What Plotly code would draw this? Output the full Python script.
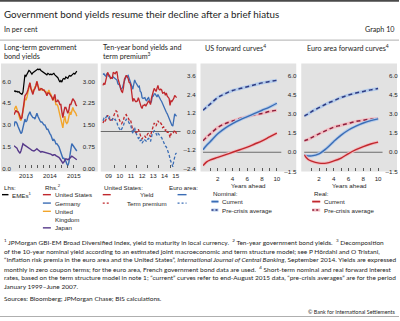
import plotly.graph_objects as go

W, H = 400, 321

# ---------------- data ----------------
# Long-term government bond yields, semi-monthly, Jan 2013 - Aug 2015
EMES = [
    5.30, 5.35, 5.28, 5.32, 5.25, 5.30, 5.20, 5.15, 5.10, 5.25,
    5.90, 6.45, 6.35, 6.50, 6.60, 6.75, 6.70, 6.55, 6.50, 6.60,
    6.65, 6.70, 6.75, 6.80,
    6.85, 6.80, 6.85, 6.75, 6.70, 6.65, 6.60, 6.55, 6.50, 6.45,
    6.55, 6.50, 6.45, 6.50, 6.45, 6.50, 6.55, 6.45, 6.40, 6.35,
    6.25, 6.10, 5.95, 6.05,
    5.95, 6.15, 6.20, 6.15, 6.30, 6.25, 6.20, 6.35, 6.40, 6.35,
    6.45, 6.50, 6.55, 6.50, 6.60, 6.70,
]
US_10Y = [
    1.85, 1.95, 2.00, 1.95, 1.95, 1.90, 1.75, 1.70, 1.75, 2.05,
    2.20, 2.50, 2.55, 2.60, 2.70, 2.85, 2.95, 2.75, 2.65, 2.55,
    2.70, 2.75, 2.85, 3.00,
    2.85, 2.70, 2.70, 2.75, 2.75, 2.70, 2.70, 2.65, 2.60, 2.50,
    2.60, 2.60, 2.55, 2.50, 2.45, 2.35, 2.45, 2.55, 2.30, 2.30,
    2.35, 2.30, 2.20, 2.20,
    1.95, 1.75, 1.95, 2.10, 2.10, 1.95, 1.90, 2.00, 2.20, 2.20,
    2.35, 2.40, 2.35, 2.30, 2.20, 2.15,
]
UK_10Y = [
    2.00, 2.10, 2.15, 2.05, 1.90, 1.80, 1.70, 1.65, 1.80, 2.00,
    2.15, 2.40, 2.35, 2.45, 2.60, 2.75, 2.95, 2.75, 2.70, 2.60,
    2.75, 2.80, 2.85, 3.00,
    2.85, 2.75, 2.70, 2.75, 2.70, 2.70, 2.70, 2.65, 2.65, 2.55,
    2.65, 2.70, 2.60, 2.55, 2.45, 2.35, 2.45, 2.40, 2.20, 2.20,
    2.15, 2.00, 1.90, 1.75,
    1.55, 1.40, 1.65, 1.80, 1.60, 1.55, 1.60, 1.80, 1.95, 1.85,
    2.05, 2.10, 2.00, 1.95, 1.90, 1.80,
]
DE_10Y = [
    1.45, 1.60, 1.60, 1.55, 1.45, 1.35, 1.30, 1.20, 1.25, 1.40,
    1.60, 1.70, 1.60, 1.65, 1.80, 1.90, 1.95, 1.85, 1.80, 1.75,
    1.75, 1.70, 1.80, 1.90,
    1.80, 1.70, 1.65, 1.60, 1.60, 1.55, 1.50, 1.50, 1.40, 1.35,
    1.35, 1.25, 1.20, 1.15, 1.05, 0.95, 1.00, 0.95, 0.85, 0.85,
    0.80, 0.75, 0.65, 0.55,
    0.50, 0.35, 0.35, 0.30, 0.25, 0.15, 0.10, 0.20, 0.55, 0.65,
    0.85, 0.80, 0.75, 0.70, 0.65, 0.60,
]
JP_10Y = [
    0.78, 0.75, 0.75, 0.70, 0.62, 0.58, 0.52, 0.60, 0.70, 0.85,
    0.82, 0.80, 0.76, 0.74, 0.72, 0.70, 0.68, 0.65, 0.62, 0.60,
    0.60, 0.62, 0.65, 0.68,
    0.64, 0.60, 0.58, 0.56, 0.58, 0.57, 0.56, 0.56, 0.55, 0.54,
    0.54, 0.52, 0.50, 0.49, 0.47, 0.45, 0.47, 0.47, 0.44, 0.42,
    0.42, 0.38, 0.34, 0.30,
    0.25, 0.18, 0.22, 0.30, 0.33, 0.32, 0.30, 0.32, 0.35, 0.38,
    0.42, 0.40, 0.38, 0.35, 0.33, 0.30,
]
LT_DATES = [2013 + k / 24 for k in range(len(EMES))]
LT_QUARTERS = [2013 + q / 4 for q in range(11)]
LT_YEAR_LABELS = {2013.5: "2013", 2014.5: "2014", 2015.5: "2015"}
LT_LEFT_TICKS = [0.0, 1.5, 3.0, 4.5, 6.0]
LT_RIGHT_TICKS = [0.0, 0.75, 1.50, 2.25, 3.00]

# Ten-year yields and term premia, monthly, Jan 2009 - Aug 2015
US_YIELD = [
    3.00, 3.15, 3.05, 3.30, 3.60, 3.85, 3.70, 3.65, 3.45, 3.50, 3.45, 3.85,
    3.80, 3.75, 3.85, 3.90, 3.45, 3.20, 3.05, 2.70, 2.60, 2.55, 2.85, 3.40,
    3.50, 3.65, 3.55, 3.45, 3.20, 3.15, 2.95, 2.30, 1.95, 2.15, 2.05, 1.95,
    1.95, 2.00, 2.20, 1.95, 1.65, 1.60, 1.50, 1.70, 1.70, 1.75, 1.65, 1.80,
    1.95, 2.00, 1.90, 1.75, 2.15, 2.50, 2.60, 2.80, 2.70, 2.60, 2.80, 3.00,
    2.75, 2.70, 2.75, 2.70, 2.50, 2.55, 2.55, 2.35, 2.50, 2.30, 2.25, 2.15,
    1.70, 2.00, 1.95, 2.05, 2.15, 2.35, 2.25, 2.20,
]
EA_YIELD = [
    3.70, 3.75, 3.65, 3.60, 3.75, 3.75, 3.60, 3.55, 3.50, 3.45, 3.45, 3.55,
    3.50, 3.45, 3.40, 3.35, 3.10, 3.05, 3.00, 2.75, 2.80, 2.85, 3.10, 3.35,
    3.45, 3.60, 3.60, 3.65, 3.45, 3.40, 3.20, 3.00, 2.75, 3.05, 3.35, 3.20,
    3.10, 2.95, 2.90, 2.95, 2.60, 2.55, 2.20, 2.15, 2.20, 2.20, 2.05, 2.00,
    2.15, 2.20, 2.00, 1.85, 1.95, 2.30, 2.30, 2.45, 2.45, 2.35, 2.25, 2.40,
    2.25, 2.15, 2.05, 1.95, 1.80, 1.65, 1.50, 1.30, 1.25, 1.15, 1.00, 0.80,
    0.60, 0.55, 0.40, 0.35, 0.85, 1.15, 1.05, 1.00,
]
US_TP = [
    0.55, 0.70, 0.60, 0.75, 0.95, 1.05, 0.90, 0.85, 0.70, 0.80, 0.75, 0.95,
    1.10, 1.25, 1.35, 1.30, 1.00, 0.80, 0.70, 0.55, 0.50, 0.60, 0.75, 1.00,
    1.05, 1.10, 0.95, 0.90, 0.75, 0.80, 0.65, 0.25, 0.05, 0.15, 0.05, -0.05,
    -0.05, 0.00, 0.15, -0.05, -0.30, -0.40, -0.50, -0.35, -0.35, -0.30, -0.40, -0.25,
    -0.15, -0.10, -0.20, -0.35, -0.05, 0.25, 0.35, 0.55, 0.45, 0.35, 0.55, 0.70,
    0.60, 0.50, 0.55, 0.45, 0.25, 0.30, 0.25, 0.05, 0.15, -0.05, -0.05, -0.15,
    -0.40, -0.15, -0.20, -0.15, -0.05, 0.10, -0.05, -0.15,
]
EA_TP = [
    0.70, 0.85, 0.80, 0.95, 1.00, 0.90, 0.85, 0.95, 0.80, 0.75, 0.80, 0.85,
    0.75, 0.80, 0.70, 0.60, 0.35, 0.25, 0.20, 0.05, 0.15, 0.25, 0.40, 0.60,
    0.65, 0.80, 0.75, 0.70, 0.55, 0.50, 0.35, 0.10, -0.15, 0.05, 0.25, -0.05,
    -0.20, -0.40, -0.45, -0.40, -0.60, -0.55, -0.75, -0.65, -0.50, -0.55, -0.60, -0.65,
    -0.50, -0.45, -0.55, -0.65, -0.40, -0.10, -0.05, 0.05, 0.00, -0.15, -0.25, -0.10,
    -0.20, -0.30, -0.35, -0.40, -0.55, -0.60, -0.75, -0.95, -1.00, -1.15, -1.30, -1.50,
    -1.80, -2.00, -2.20, -2.30, -1.90, -1.55, -1.45, -1.40,
]
TP_DATES = [2009 + k / 12 for k in range(len(US_YIELD))]
TP_YEAR_BOUNDS = [2010, 2011, 2012, 2013, 2014, 2015]
TP_YEAR_MIDS = [2009.5, 2010.5, 2011.5, 2012.5, 2013.5, 2014.5, 2015.5]
TP_YEAR_LABELS = ["09", "10", "11", "12", "13", "14", "15"]
TP_TICKS = [-2.4, -1.2, 0.0, 1.2, 2.4, 3.6]

# Forward curves, years ahead
YEARS = [0, 0.5, 1, 2, 3, 4, 5, 6, 7, 8, 9, 10]
US_NOM_CUR = [0.20, 0.55, 0.85, 1.45, 1.90, 2.25, 2.55, 2.80, 3.05, 3.30, 3.55, 3.85]
US_NOM_PRE = [3.30, 3.55, 3.80, 4.30, 4.60, 4.85, 5.00, 5.15, 5.30, 5.45, 5.55, 5.65]
US_REAL_CUR = [-1.05, -0.75, -0.60, -0.40, -0.20, 0.00, 0.20, 0.40, 0.65, 0.90, 1.20, 1.50]
US_REAL_PRE = [0.90, 1.20, 1.45, 1.95, 2.25, 2.45, 2.65, 2.80, 2.95, 3.05, 3.20, 3.30]
EA_NOM_CUR = [-0.22, -0.28, -0.28, -0.12, 0.30, 0.85, 1.35, 1.75, 2.05, 2.30, 2.48, 2.62]
EA_NOM_PRE = [2.85, 3.00, 3.20, 3.50, 3.80, 4.05, 4.30, 4.50, 4.65, 4.78, 4.90, 5.00]
EA_REAL_CUR = [-0.20, -0.55, -0.70, -0.85, -0.85, -0.68, -0.45, -0.10, 0.20, 0.45, 0.65, 0.80]
EA_REAL_PRE = [0.90, 1.00, 1.15, 1.45, 1.72, 1.97, 2.12, 2.27, 2.42, 2.52, 2.60, 2.65]
FWD_XTICKS = list(range(1, 11))
FWD_YTICKS = [-1.5, 0.0, 1.5, 3.0, 4.5, 6.0]

FOOTNOTES = [
    "<sup>1</sup> JPMorgan GBI-EM Broad Diversified Index, yield to maturity in local currency.  "
    "<sup>2</sup> Ten-year government bond yields.  <sup>3</sup> Decomposition",
    "of the 10-year nominal yield according to an estimated joint macroeconomic and term structure model; "
    "see P Hördahl and O Tristani,",
    "\u201cInflation risk premia in the euro area and the United States\u201d, "
    "<i>International Journal of Central Banking</i>, September 2014. Yields are expressed",
    "monthly in zero coupon terms; for the euro area, French government bond data are used.  "
    "<sup>4</sup> Short-term nominal and real forward interest",
    "rates, based on the term structure model in note 1; \u201ccurrent\u201d curves refer to end-August 2015 data, "
    "\u201cpre-crisis averages\u201d are for the period",
    "January 1999\u2013June 2007.",
]

# ---------------- styling ----------------
def fx(p):
    return p / W


def fy(p):
    return 1 - p / H


CHART_FONT = "Liberation Sans, Arial, sans-serif"
TEXT_FONT = "Lato, Liberation Sans, sans-serif"
INK = "#1e1e1e"
PANEL_BG = "#e2e2e2"
TICK_GREY = "#5a5a5a"
RED = "#c0282d"
BLUE = "#3b6db5"
ORANGE = "#f2a52b"
PURPLE = "#56398a"
BLACK = "#000000"
NAVY = "#2e3a82"
MAROON = "#8e1f3c"
LIGHT_BLUE = "#b4cbea"
PINK = "#f2bcc1"
TICK_SIZE = 6.2


def num_label(v, nd, pad=False):
    s = f"{abs(v):.{nd}f}"
    if v < 0:
        return "\u2013" + s
    return ("\u2007" + s) if pad else s


fig = go.Figure()


def add_line(x, y, xa, ya, color, width=1.3, dash=None, shape="linear"):
    fig.add_trace(go.Scatter(
        x=x, y=y, xaxis=xa, yaxis=ya, mode="lines", hoverinfo="skip",
        showlegend=False, line=dict(color=color, width=width, dash=dash, shape=shape),
    ))


# Panel 1: long-term government bond yields
add_line(LT_DATES, UK_10Y, "x", "y2", ORANGE, 1.4)
add_line(LT_DATES, US_10Y, "x", "y2", RED, 1.4)
add_line(LT_DATES, DE_10Y, "x", "y2", BLUE, 1.4)
add_line(LT_DATES, JP_10Y, "x", "y2", PURPLE, 1.4)
add_line(LT_DATES, EMES, "x", "y", BLACK, 1.2)

# Panel 2: ten-year yields and term premia
add_line(TP_DATES, US_TP, "x2", "y3", RED, 1.3, "3px,2px")
add_line(TP_DATES, EA_TP, "x2", "y3", BLUE, 1.3, "3px,2px")
add_line(TP_DATES, EA_YIELD, "x2", "y3", BLUE, 1.3)
add_line(TP_DATES, US_YIELD, "x2", "y3", RED, 1.3)

# Panels 3 and 4: forward curves (pale underlay + main stroke)
for xa, ya, nom_cur, nom_pre, real_cur, real_pre in [
    ("x3", "y4", US_NOM_CUR, US_NOM_PRE, US_REAL_CUR, US_REAL_PRE),
    ("x4", "y5", EA_NOM_CUR, EA_NOM_PRE, EA_REAL_CUR, EA_REAL_PRE),
]:
    add_line(YEARS, nom_pre, xa, ya, LIGHT_BLUE, 3.2, shape="spline")
    add_line(YEARS, nom_pre, xa, ya, NAVY, 1.5, "4px,3px", "spline")
    add_line(YEARS, real_pre, xa, ya, PINK, 3.2, shape="spline")
    add_line(YEARS, real_pre, xa, ya, MAROON, 1.5, "4px,3px", "spline")
    add_line(YEARS, nom_cur, xa, ya, LIGHT_BLUE, 3.2, shape="spline")
    add_line(YEARS, nom_cur, xa, ya, BLUE, 1.4, shape="spline")
    add_line(YEARS, real_cur, xa, ya, PINK, 3.2, shape="spline")
    add_line(YEARS, real_cur, xa, ya, RED, 1.4, shape="spline")

tickfont = dict(family=CHART_FONT, size=TICK_SIZE, color=INK)
base = dict(showgrid=False, zeroline=False, showline=False, fixedrange=True,
            tickfont=tickfont, tickmode="array")
xbase = dict(base, ticks="inside", ticklen=3, tickwidth=1, tickcolor=TICK_GREY,
             ticklabelstandoff=2)
ybase = dict(base, ticks="", ticklabelstandoff=2)

fig.update_layout(
    width=W, height=H, margin=dict(l=0, r=0, t=0, b=0),
    paper_bgcolor="white", plot_bgcolor="rgba(0,0,0,0)", showlegend=False,
    xaxis=dict(xbase, domain=[fx(14), fx(80)], range=[2013.0, 2015.75], anchor="y",
               tickvals=LT_QUARTERS,
               ticktext=[LT_YEAR_LABELS.get(q, "") for q in LT_QUARTERS]),
    yaxis=dict(ybase, domain=[fy(170), fy(66)], range=[0, 7.1], anchor="x", side="left",
               tickvals=LT_LEFT_TICKS, ticktext=[num_label(v, 1) for v in LT_LEFT_TICKS]),
    yaxis2=dict(ybase, range=[0, 3.55], overlaying="y", anchor="x", side="right",
                tickvals=LT_RIGHT_TICKS, ticktext=[num_label(v, 2) for v in LT_RIGHT_TICKS]),
    xaxis2=dict(xbase, domain=[fx(101), fx(181)], range=[2008.8, 2015.94], anchor="y3",
                ticklen=0, tickvals=TP_YEAR_MIDS, ticktext=TP_YEAR_LABELS,
                minor=dict(tickmode="array", tickvals=TP_YEAR_BOUNDS, ticks="inside",
                           ticklen=3, tickwidth=1, tickcolor=TICK_GREY)),
    yaxis3=dict(ybase, domain=[fy(170), fy(66)], range=[-2.4, 4.3], anchor="x2", side="right",
                tickvals=TP_TICKS, ticktext=[num_label(v, 1, True) for v in TP_TICKS]),
    xaxis3=dict(xbase, domain=[fx(203.5), fx(282)], range=[0, 10.6], anchor="y4",
                tickvals=FWD_XTICKS,
                ticktext=[str(v) if v % 2 == 0 else "" for v in FWD_XTICKS]),
    yaxis4=dict(ybase, domain=[fy(173), fy(65)], range=[-1.5, 6.9], anchor="x3", side="right",
                tickvals=FWD_YTICKS, ticktext=[num_label(v, 1, True) for v in FWD_YTICKS]),
    xaxis4=dict(xbase, domain=[fx(305), fx(383.5)], range=[0, 10.6], anchor="y5",
                tickvals=FWD_XTICKS,
                ticktext=[str(v) if v % 2 == 0 else "" for v in FWD_XTICKS]),
    yaxis5=dict(ybase, domain=[fy(173), fy(65)], range=[-1.5, 6.9], anchor="x4", side="right",
                tickvals=FWD_YTICKS, ticktext=[num_label(v, 1, True) for v in FWD_YTICKS]),
)

shapes = []
# panel backgrounds
for x0, x1 in [(1, 98), (101, 197), (201, 297), (302, 398)]:
    shapes.append(dict(type="rect", xref="paper", yref="paper", layer="below",
                       x0=fx(x0), x1=fx(x1), y0=fy(173), y1=fy(64),
                       fillcolor=PANEL_BG, line=dict(width=0)))
# zero lines
for xr, yr in [("x2", "y3"), ("x3", "y4"), ("x4", "y5")]:
    shapes.append(dict(type="line", xref=f"{xr} domain", yref=yr, layer="below",
                       x0=0, x1=1, y0=0, y1=0, line=dict(color="#6b6b6b", width=1.1)))
# page rules
shapes.append(dict(type="rect", xref="paper", yref="paper", x0=0, x1=1,
                   y0=fy(1.8), y1=fy(0), fillcolor="#4a4a4a", line=dict(width=0)))
shapes.append(dict(type="line", xref="paper", yref="paper", x0=0, x1=1,
                   y0=fy(40.5), y1=fy(40.5), line=dict(color="#9a9a9a", width=0.8)))
shapes.append(dict(type="line", xref="paper", yref="paper", x0=0, x1=1,
                   y0=fy(319.5), y1=fy(319.5), line=dict(color="#9a9a9a", width=0.8)))


def swatch(x0, x1, y, color, dash=None, width=1.4, under=None):
    if under:
        shapes.append(dict(type="line", xref="paper", yref="paper", x0=fx(x0), x1=fx(x1),
                           y0=fy(y), y1=fy(y), line=dict(color=under, width=3)))
    shapes.append(dict(type="line", xref="paper", yref="paper", x0=fx(x0), x1=fx(x1),
                       y0=fy(y), y1=fy(y), line=dict(color=color, width=width, dash=dash)))


annotations = []


def text(t, x, y, size=TICK_SIZE, family=CHART_FONT, anchor="left", color=INK):
    annotations.append(dict(text=t, x=fx(x), y=fy(y), xref="paper", yref="paper",
                            xanchor=anchor, yanchor="middle", showarrow=False,
                            font=dict(family=family, size=size, color=color)))


# header
text("Government bond yields resume their decline after a brief hiatus", 2.5, 14, 9.8, TEXT_FONT)
text("In per cent", 2.5, 29.5, 7.2, TEXT_FONT)
text("Graph 10", 397.5, 29.5, 7.2, TEXT_FONT, "right")

# panel titles
PT = 7.2
text("Long-term government", 2, 48, PT, TEXT_FONT)
text("bond yields", 2, 57, PT, TEXT_FONT)
text("Ten-year bond yields and", 101.5, 48, PT, TEXT_FONT)
text("term premium<sup>3</sup>", 101.5, 57, PT, TEXT_FONT)
text("US forward curves<sup>4</sup>", 204, 48, PT, TEXT_FONT)
text("Euro area forward curves<sup>4</sup>", 305.5, 48, PT, TEXT_FONT)

# legend: panel 1
text("Lhs:", 2, 189, TICK_SIZE)
swatch(2, 8.5, 196.5, BLACK)
text("EMEs<sup>1</sup>", 10, 196.5)
text("Rhs.<sup>2</sup>", 43, 189)
swatch(43, 51, 196.5, RED)
text("United States", 53, 196.5)
swatch(43, 51, 205, BLUE)
text("Germany", 53, 205)
swatch(43, 51, 213.3, ORANGE)
text("United", 53, 213.3)
text("Kingdom", 53, 221.5)
swatch(43, 51, 230, PURPLE)
text("Japan", 53, 230)

# legend: panel 2
text("United States:", 102, 189)
text("Euro area:", 167, 189)
swatch(103, 111, 196.5, RED)
text("Yield", 147.5, 196.5, anchor="center")
swatch(178, 187, 196.5, BLUE)
swatch(103, 111, 205, RED, "2px,2px")
text("Term premium", 147.5, 205, anchor="center")
swatch(178, 187, 205, BLUE, "2px,2px")

# legend: panels 3 and 4
text("Years ahead", 249, 187, anchor="center")
text("Years ahead", 350, 187, anchor="center")
text("Nominal:", 211.5, 195)
swatch(212, 219, 203.5, BLUE, under=LIGHT_BLUE)
text("Current", 221, 203.5)
swatch(212, 219, 212, NAVY, "2px,2px", under=LIGHT_BLUE)
text("Pre-crisis average", 221, 212)
text("Real:", 313, 195)
swatch(313, 321, 203.5, RED, under=PINK)
text("Current", 323, 203.5)
swatch(313, 321, 212, MAROON, "2px,2px", under=PINK)
text("Pre-crisis average", 323, 212)

# footnotes
FN = 6.5
for i, line_text in enumerate(FOOTNOTES):
    text(line_text, 2.5, 244.5 + i * 8.9, FN, TEXT_FONT)
text("Sources: Bloomberg; JPMorgan Chase; BIS calculations.", 2.5, 301.5, FN, TEXT_FONT)
text("\u00a9 Bank for International Settlements", 397.5, 314.5, 5.4, TEXT_FONT, "right")

fig.update_layout(shapes=shapes, annotations=annotations)
fig.write_html("out.html")
